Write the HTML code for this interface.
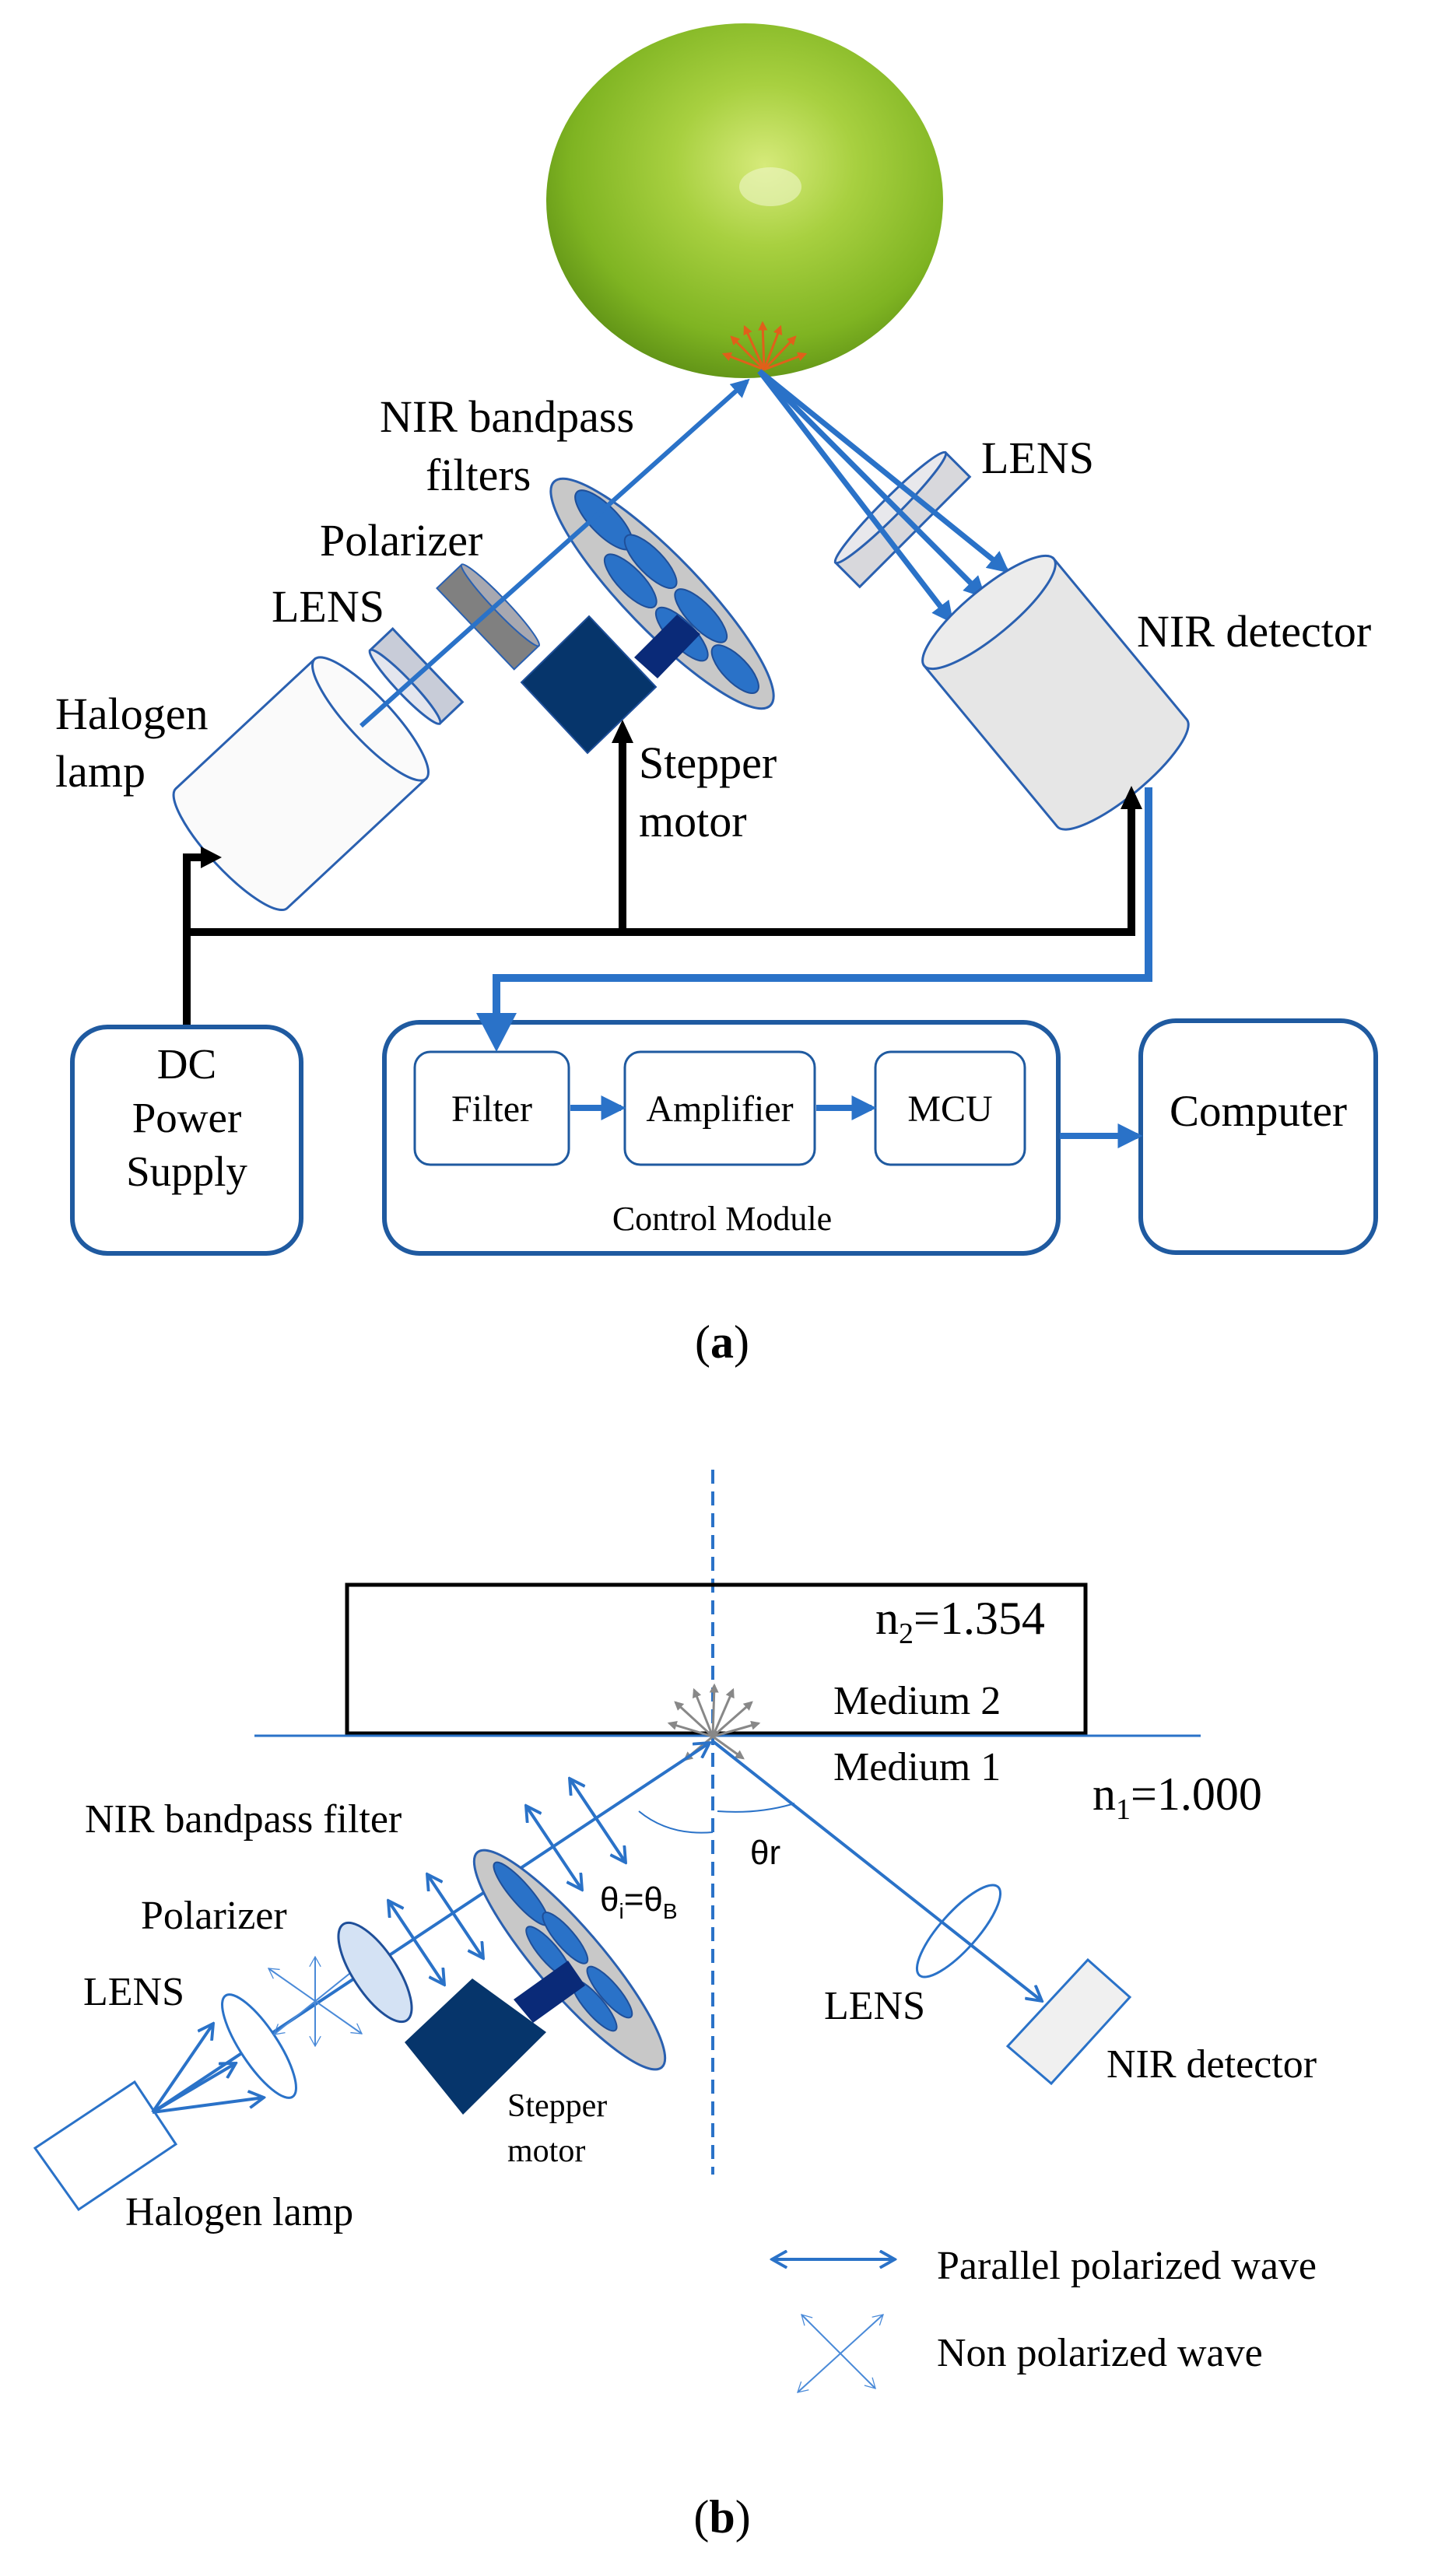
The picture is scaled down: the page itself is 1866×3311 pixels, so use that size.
<!DOCTYPE html>
<html><head><meta charset="utf-8"><style>
html,body{margin:0;padding:0;background:#fff}
svg{display:block}
text{font-family:"Liberation Serif",serif;fill:#000}
</style></head><body>
<svg width="1866" height="3311" viewBox="0 0 1866 3311" xmlns="http://www.w3.org/2000/svg">
<defs>
<radialGradient id="fr" cx="0.55" cy="0.4" r="0.65">
<stop offset="0" stop-color="#d6ea7a"/><stop offset="0.35" stop-color="#a8d040"/><stop offset="0.75" stop-color="#7fb422"/><stop offset="1" stop-color="#5a8c14"/>
</radialGradient>
<marker id="bh" viewBox="0 0 10 10" refX="8" refY="5" markerWidth="4" markerHeight="4" orient="auto-start-reverse"><path d="M0,0L10,5L0,10z" fill="#2a72c8"/></marker>
<marker id="oh" viewBox="0 0 10 10" refX="8" refY="5" markerWidth="4" markerHeight="4" orient="auto"><path d="M0,0L10,5L0,10z" fill="#e0601a"/></marker>
<marker id="gh" viewBox="0 0 10 10" refX="8" refY="5" markerWidth="4" markerHeight="4" orient="auto"><path d="M0,0L10,5L0,10z" fill="#888"/></marker>
<marker id="vh" viewBox="0 0 10 10" refX="9" refY="5" markerWidth="6" markerHeight="6" orient="auto-start-reverse"><path d="M1,0.5L9,5L1,9.5" fill="none" stroke="#2a72c8" stroke-width="1.6"/></marker>
<marker id="vt" viewBox="0 0 10 10" refX="9" refY="5" markerWidth="8" markerHeight="8" orient="auto-start-reverse"><path d="M1,0.5L9,5L1,9.5" fill="none" stroke="#4a8ad8" stroke-width="0.8"/></marker>
</defs>

<!-- ===== Panel (a) ===== -->
<ellipse cx="957" cy="258" rx="255" ry="228" fill="url(#fr)"/>
<ellipse cx="990" cy="240" rx="40" ry="25" fill="#eef6c8" opacity="0.6"/>
<g stroke="#e0601a" stroke-width="3" marker-end="url(#oh)">
<line x1="982" y1="475" x2="930" y2="455"/><line x1="982" y1="475" x2="940" y2="433"/>
<line x1="982" y1="475" x2="957" y2="420"/><line x1="982" y1="475" x2="980" y2="415"/>
<line x1="982" y1="475" x2="1003" y2="420"/><line x1="982" y1="475" x2="1022" y2="433"/>
<line x1="982" y1="475" x2="1035" y2="455"/>
</g>

<g transform="translate(476,924) rotate(137)">
<path d="M0,-105 L244,-105 A28,105 0 0 1 244,105 L0,105 Z" fill="#fafafa" stroke="#2a60b0" stroke-width="3"/>
<ellipse cx="0" cy="0" rx="28" ry="105" fill="#fafafa" stroke="#2a60b0" stroke-width="3"/>
</g>
<g transform="translate(535,869) rotate(-43.6)">
<rect x="-20" y="-65" width="40" height="130" fill="#c8ccd8" stroke="#2a60b0" stroke-width="3"/>
<ellipse cx="-20" cy="0" rx="10" ry="65" fill="#e4e6ee" stroke="#2a60b0" stroke-width="3"/>
</g>
<g transform="translate(627,793) rotate(-43.6)">
<rect x="-22" y="-72" width="44" height="144" fill="#808080" stroke="#2a60b0" stroke-width="2"/>
<ellipse cx="22" cy="0" rx="9" ry="72" fill="#a8a8b0" stroke="#2a60b0" stroke-width="2"/>
</g>
<g transform="translate(851,763) rotate(46)">
<ellipse cx="0" cy="0" rx="200" ry="48" fill="#c8c8c8" stroke="#2a60b0" stroke-width="3"/>
<ellipse cx="-120" cy="-12" rx="50" ry="18" fill="#2a72c8" stroke="#1f4f99" stroke-width="2"/>
<ellipse cx="-40" cy="-18" rx="45" ry="16" fill="#2a72c8" stroke="#1f4f99" stroke-width="2"/>
<ellipse cx="-40" cy="18" rx="45" ry="16" fill="#2a72c8" stroke="#1f4f99" stroke-width="2"/>
<ellipse cx="55" cy="-16" rx="45" ry="16" fill="#2a72c8" stroke="#1f4f99" stroke-width="2"/>
<ellipse cx="55" cy="18" rx="45" ry="16" fill="#2a72c8" stroke="#1f4f99" stroke-width="2"/>
<ellipse cx="135" cy="0" rx="40" ry="16" fill="#2a72c8" stroke="#1f4f99" stroke-width="2"/>
</g>
<line x1="464" y1="933" x2="960" y2="490" stroke="#2a72c8" stroke-width="6" marker-end="url(#bh)"/>
<polygon points="815,845 870,790 900,815 845,872" fill="#0a2a78"/>
<polygon points="757,792 843,883 755,968 670,877" fill="#06356b" stroke="#1f4f99" stroke-width="2"/>

<g transform="translate(1160,668) rotate(45)">
<rect x="-22" y="-100" width="44" height="200" fill="#d8d8dc" stroke="#2a60b0" stroke-width="3"/>
<ellipse cx="-22" cy="0" rx="12" ry="100" fill="#e8e8ec" stroke="#2a60b0" stroke-width="3"/>
</g>
<g stroke="#2a72c8" stroke-width="7" marker-end="url(#bh)">
<line x1="976" y1="477" x2="1222" y2="797"/>
<line x1="976" y1="477" x2="1263" y2="765"/>
<line x1="976" y1="477" x2="1293" y2="733"/>
</g>
<g transform="translate(1271,787) rotate(50.4)">
<path d="M0,-108 L268,-108 A30,108 0 0 1 268,108 L0,108 Z" fill="#e6e6e6" stroke="#2a60b0" stroke-width="3"/>
<ellipse cx="0" cy="0" rx="30" ry="108" fill="#ececec" stroke="#2a60b0" stroke-width="3"/>
</g>

<g stroke="#000" stroke-width="10" fill="none">
<polyline points="240,1322 240,1102 262,1102"/>
<line x1="235" y1="1198" x2="1459" y2="1198"/>
<line x1="800" y1="1198" x2="800" y2="950"/>
<line x1="1454" y1="1202" x2="1454" y2="1035"/>
</g>
<g fill="#000">
<polygon points="258,1088 285,1102 258,1116"/>
<polygon points="786,955 800,925 814,955"/>
<polygon points="1440,1040 1454,1010 1468,1040"/>
</g>
<polyline points="1476,1012 1476,1257 638,1257 638,1310" fill="none" stroke="#2a72c8" stroke-width="10"/>

<g fill="#fff" stroke="#1f5aa0">
<rect x="93" y="1320" width="294" height="291" rx="45" stroke-width="6"/>
<rect x="494" y="1314" width="866" height="297" rx="45" stroke-width="6"/>
<rect x="1466" y="1312" width="302" height="298" rx="45" stroke-width="6"/>
<rect x="533" y="1352" width="198" height="145" rx="20" stroke-width="3"/>
<rect x="803" y="1352" width="244" height="145" rx="20" stroke-width="3"/>
<rect x="1125" y="1352" width="192" height="145" rx="20" stroke-width="3"/>
</g>
<polygon points="612,1302 638,1352 664,1302" fill="#2a72c8"/>
<g stroke="#2a72c8" stroke-width="8" marker-end="url(#bh)">
<line x1="733" y1="1424" x2="798" y2="1424"/>
<line x1="1049" y1="1424" x2="1120" y2="1424"/>
<line x1="1362" y1="1460" x2="1462" y2="1460"/>
</g>

<g font-size="58">
<text x="488" y="555">NIR bandpass</text>
<text x="547" y="630">filters</text>
<text x="411" y="714">Polarizer</text>
<text x="349" y="799">LENS</text>
<text x="71" y="937">Halogen</text>
<text x="71" y="1011">lamp</text>
<text x="821" y="1000">Stepper</text>
<text x="821" y="1075">motor</text>
<text x="1261" y="608">LENS</text>
<text x="1461" y="831">NIR detector</text>
</g>
<g font-size="55" text-anchor="middle">
<text x="240" y="1386">DC</text>
<text x="240" y="1455">Power</text>
<text x="240" y="1524">Supply</text>
<text x="1617" y="1447" font-size="57">Computer</text>
</g>
<g font-size="48" text-anchor="middle">
<text x="632" y="1441">Filter</text>
<text x="925" y="1441">Amplifier</text>
<text x="1221" y="1441">MCU</text>
<text x="928" y="1581" font-size="44">Control Module</text>
</g>
<text x="928" y="1745" font-size="60" text-anchor="middle">(<tspan font-weight="bold">a</tspan>)</text>

<!-- ===== Panel (b) ===== -->
<line x1="916" y1="1889" x2="916" y2="2795" stroke="#2a72c8" stroke-width="4" stroke-dasharray="18,10"/>
<rect x="446" y="2037" width="949" height="191" fill="none" stroke="#000" stroke-width="5"/>
<line x1="327" y1="2231" x2="1543" y2="2231" stroke="#2a72c8" stroke-width="3"/>
<g stroke="#888" stroke-width="3" marker-end="url(#gh)">
<line x1="916" y1="2232" x2="860" y2="2215"/><line x1="916" y1="2232" x2="868" y2="2188"/>
<line x1="916" y1="2232" x2="892" y2="2172"/><line x1="916" y1="2232" x2="918" y2="2166"/>
<line x1="916" y1="2232" x2="942" y2="2172"/><line x1="916" y1="2232" x2="966" y2="2188"/>
<line x1="916" y1="2232" x2="975" y2="2215"/><line x1="916" y1="2232" x2="955" y2="2260"/>
<line x1="916" y1="2232" x2="880" y2="2262"/>
</g>
<text x="1125" y="2100" font-size="60">n<tspan font-size="38" dy="12">2</tspan><tspan dy="-12">=1.354</tspan></text>
<text x="1071" y="2203" font-size="52">Medium  2</text>
<text x="1071" y="2288" font-size="52">Medium  1</text>
<text x="1404" y="2326" font-size="60">n<tspan font-size="38" dy="12">1</tspan><tspan dy="-12">=1.000</tspan></text>

<line x1="196" y1="2715" x2="912" y2="2240" stroke="#2a72c8" stroke-width="4" marker-end="url(#vh)"/>
<line x1="916" y1="2238" x2="1339" y2="2572" stroke="#2a72c8" stroke-width="4" marker-end="url(#vh)"/>
<path d="M821,2328 Q860,2360 916,2355" fill="none" stroke="#2a72c8" stroke-width="2"/>
<path d="M922,2328 Q975,2332 1021,2318" fill="none" stroke="#2a72c8" stroke-width="2"/>
<text x="771" y="2456" font-size="44" style="font-family:'Liberation Sans',sans-serif">θ<tspan font-size="28" dy="10">i</tspan><tspan dy="-10">=θ</tspan><tspan font-size="28" dy="10">B</tspan></text>
<text x="964" y="2396" font-size="44" style="font-family:'Liberation Sans',sans-serif">θr</text>

<polygon points="45,2761 173,2676 226,2756 101,2840" fill="#fff" stroke="#2a72c8" stroke-width="3"/>
<g stroke="#2a72c8" stroke-width="4" marker-end="url(#vh)">
<line x1="196" y1="2715" x2="274" y2="2601"/>
<line x1="196" y1="2715" x2="303" y2="2652"/>
<line x1="196" y1="2715" x2="339" y2="2696"/>
</g>
<ellipse cx="333" cy="2630" rx="24" ry="78" transform="rotate(-33.5 333 2630)" fill="#fff" stroke="#2a72c8" stroke-width="3"/>
<g stroke="#4a8ad8" stroke-width="2" marker-start="url(#vt)" marker-end="url(#vt)">
<line x1="345" y1="2530" x2="465" y2="2614"/>
<line x1="352" y1="2615" x2="460" y2="2528"/>
<line x1="405" y1="2515" x2="405" y2="2630"/>
</g>
<ellipse cx="482" cy="2535" rx="28" ry="74" transform="rotate(-33.5 482 2535)" fill="#d4e2f4" stroke="#1f4f99" stroke-width="3"/>
<g stroke="#2a72c8" stroke-width="4" marker-start="url(#vh)" marker-end="url(#vh)">
<line x1="499" y1="2443" x2="571" y2="2551"/>
<line x1="549" y1="2409" x2="621" y2="2517"/>
<line x1="676" y1="2321" x2="748" y2="2429"/>
<line x1="732" y1="2286" x2="804" y2="2394"/>
</g>
<g transform="translate(732,2519) rotate(49.4)">
<ellipse cx="0" cy="0" rx="182" ry="42" fill="#c8c8c8" stroke="#2a60b0" stroke-width="3"/>
<ellipse cx="-105" cy="-8" rx="52" ry="13" fill="#2a72c8" stroke="#1f4f99" stroke-width="2"/>
<ellipse cx="-25" cy="-14" rx="42" ry="12" fill="#2a72c8" stroke="#1f4f99" stroke-width="2"/>
<ellipse cx="-25" cy="14" rx="42" ry="12" fill="#2a72c8" stroke="#1f4f99" stroke-width="2"/>
<ellipse cx="65" cy="-12" rx="42" ry="12" fill="#2a72c8" stroke="#1f4f99" stroke-width="2"/>
<ellipse cx="65" cy="14" rx="42" ry="12" fill="#2a72c8" stroke="#1f4f99" stroke-width="2"/>
</g>
<polygon points="660,2570 730,2520 752,2552 685,2600" fill="#0a2a78"/>
<polygon points="520,2625 607,2543 702,2612 595,2718" fill="#06356b"/>

<ellipse cx="1232" cy="2482" rx="24" ry="76" transform="rotate(41.6 1232 2482)" fill="none" stroke="#2a72c8" stroke-width="3"/>
<polygon points="1295,2630 1398,2519 1452,2567 1351,2678" fill="#f0f0f0" stroke="#2a72c8" stroke-width="3"/>

<g font-size="52">
<text x="109" y="2355">NIR bandpass  filter</text>
<text x="181" y="2479">Polarizer</text>
<text x="107" y="2577">LENS</text>
<text x="161" y="2860">Halogen lamp</text>
<text x="1059" y="2595">LENS</text>
<text x="1422" y="2670">NIR detector</text>
<text x="1204" y="2929">Parallel polarized  wave</text>
<text x="1204" y="3041">Non polarized  wave</text>
</g>
<text x="652" y="2720" font-size="42">Stepper</text>
<text x="652" y="2778" font-size="42">motor</text>

<line x1="992" y1="2904" x2="1150" y2="2904" stroke="#2a72c8" stroke-width="4" marker-start="url(#vh)" marker-end="url(#vh)"/>
<g stroke="#4a8ad8" stroke-width="2" marker-start="url(#vt)" marker-end="url(#vt)">
<line x1="1025" y1="3075" x2="1135" y2="2975"/>
<line x1="1030" y1="2975" x2="1125" y2="3070"/>
</g>
<text x="928" y="3255" font-size="60" text-anchor="middle">(<tspan font-weight="bold">b</tspan>)</text>
</svg>
</body></html>
